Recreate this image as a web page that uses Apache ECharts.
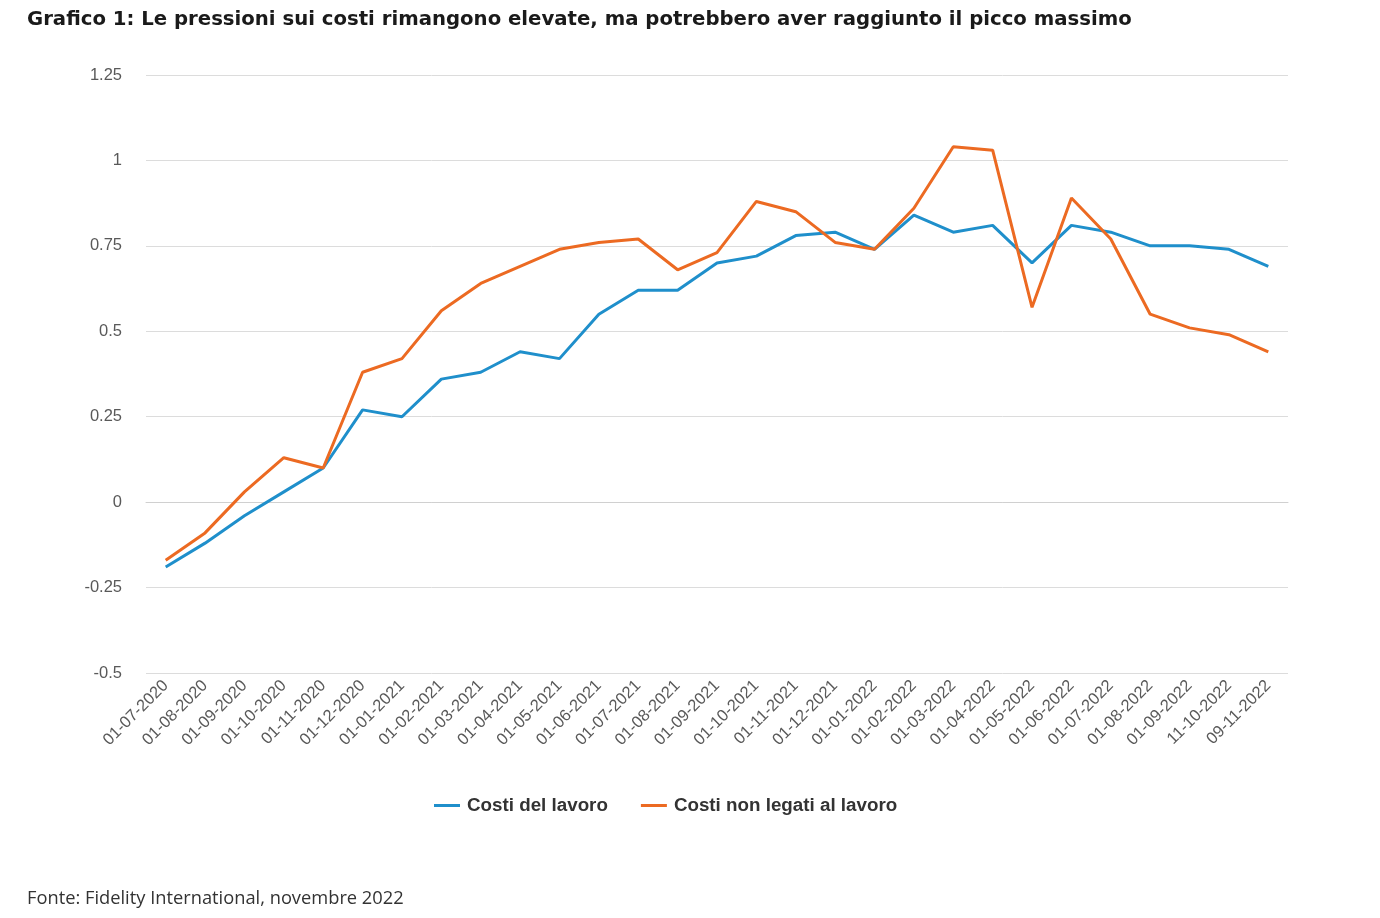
<!DOCTYPE html>
<html>
<head>
<meta charset="utf-8">
<script src="https://cdn.jsdelivr.net/npm/echarts@6/dist/echarts.min.js"></script>
<style>
html,body{margin:0;padding:0;background:#fff;}
#c{width:1380px;height:918px;}
</style>
</head>
<body>
<div id="c"></div>
<script>
const categories = ["01-07-2020","01-08-2020","01-09-2020","01-10-2020","01-11-2020","01-12-2020","01-01-2021","01-02-2021","01-03-2021","01-04-2021","01-05-2021","01-06-2021","01-07-2021","01-08-2021","01-09-2021","01-10-2021","01-11-2021","01-12-2021","01-01-2022","01-02-2022","01-03-2022","01-04-2022","01-05-2022","01-06-2022","01-07-2022","01-08-2022","01-09-2022","11-10-2022","09-11-2022"];
const costiLavoro = [-0.19,-0.12,-0.04,0.03,0.10,0.27,0.25,0.36,0.38,0.44,0.42,0.55,0.62,0.62,0.70,0.72,0.78,0.79,0.74,0.84,0.79,0.81,0.70,0.81,0.79,0.75,0.75,0.74,0.69];
const costiNonLavoro = [-0.17,-0.09,0.03,0.13,0.10,0.38,0.42,0.56,0.64,0.69,0.74,0.76,0.77,0.68,0.73,0.88,0.85,0.76,0.74,0.86,1.04,1.03,0.57,0.89,0.77,0.55,0.51,0.49,0.44];
const yTicks = {min:-0.5, max:1.25, interval:0.25};

const chart = echarts.init(document.getElementById('c'));
chart.setOption({
  backgroundColor:'#fff',
  animation:false,
  title:[
    {text:'Grafico 1: Le pressioni sui costi rimangono elevate, ma potrebbero aver raggiunto il picco massimo',
     left:22, top:5, textStyle:{fontFamily:'"DejaVu Sans", sans-serif', fontWeight:'bold', fontSize:19.7, color:'#1a1a1a'}},
    {text:'Fonte: Fidelity International, novembre 2022',
     left:22, top:885, textStyle:{fontFamily:'"Open Sans", sans-serif', fontWeight:'normal', fontSize:18.3, color:'#333'}}
  ],
  legend:{
    top:791, left:429, itemGap:33, itemWidth:26, itemHeight:3,
    icon:'rect',
    textStyle:{fontFamily:'Liberation Sans, Arial, sans-serif', fontWeight:'bold', fontSize:18.8, color:'#333', padding:[0,0,0,2]},
    data:['Costi del lavoro','Costi non legati al lavoro']
  },
  grid:{left:146, right:92, top:75, bottom:245},
  xAxis:{
    type:'category', data:categories, boundaryGap:true,
    axisLine:{lineStyle:{color:'#d0d0d0', width:1}},
    axisTick:{show:false},
    axisLabel:{rotate:45, fontSize:16.5, color:'#595959', fontFamily:'Liberation Sans, Arial, sans-serif', margin:10, interval:0}
  },
  yAxis:{
    type:'value', min:yTicks.min, max:yTicks.max, interval:yTicks.interval,
    axisLine:{show:false}, axisTick:{show:false},
    splitLine:{lineStyle:{color:'#dcdcdc', width:1}},
    axisLabel:{fontSize:16.5, color:'#595959', fontFamily:'Liberation Sans, Arial, sans-serif', margin:24,
      formatter:v=>String(Math.round(v*100)/100)}
  },
  series:[
    {name:'Costi del lavoro', type:'line', data:costiLavoro, symbol:'none',
     lineStyle:{color:'#1f8fcb', width:3}, itemStyle:{color:'#1f8fcb'}},
    {name:'Costi non legati al lavoro', type:'line', data:costiNonLavoro, symbol:'none',
     lineStyle:{color:'#ec6a22', width:3}, itemStyle:{color:'#ec6a22'}}
  ]
});
</script>
</body>
</html>
